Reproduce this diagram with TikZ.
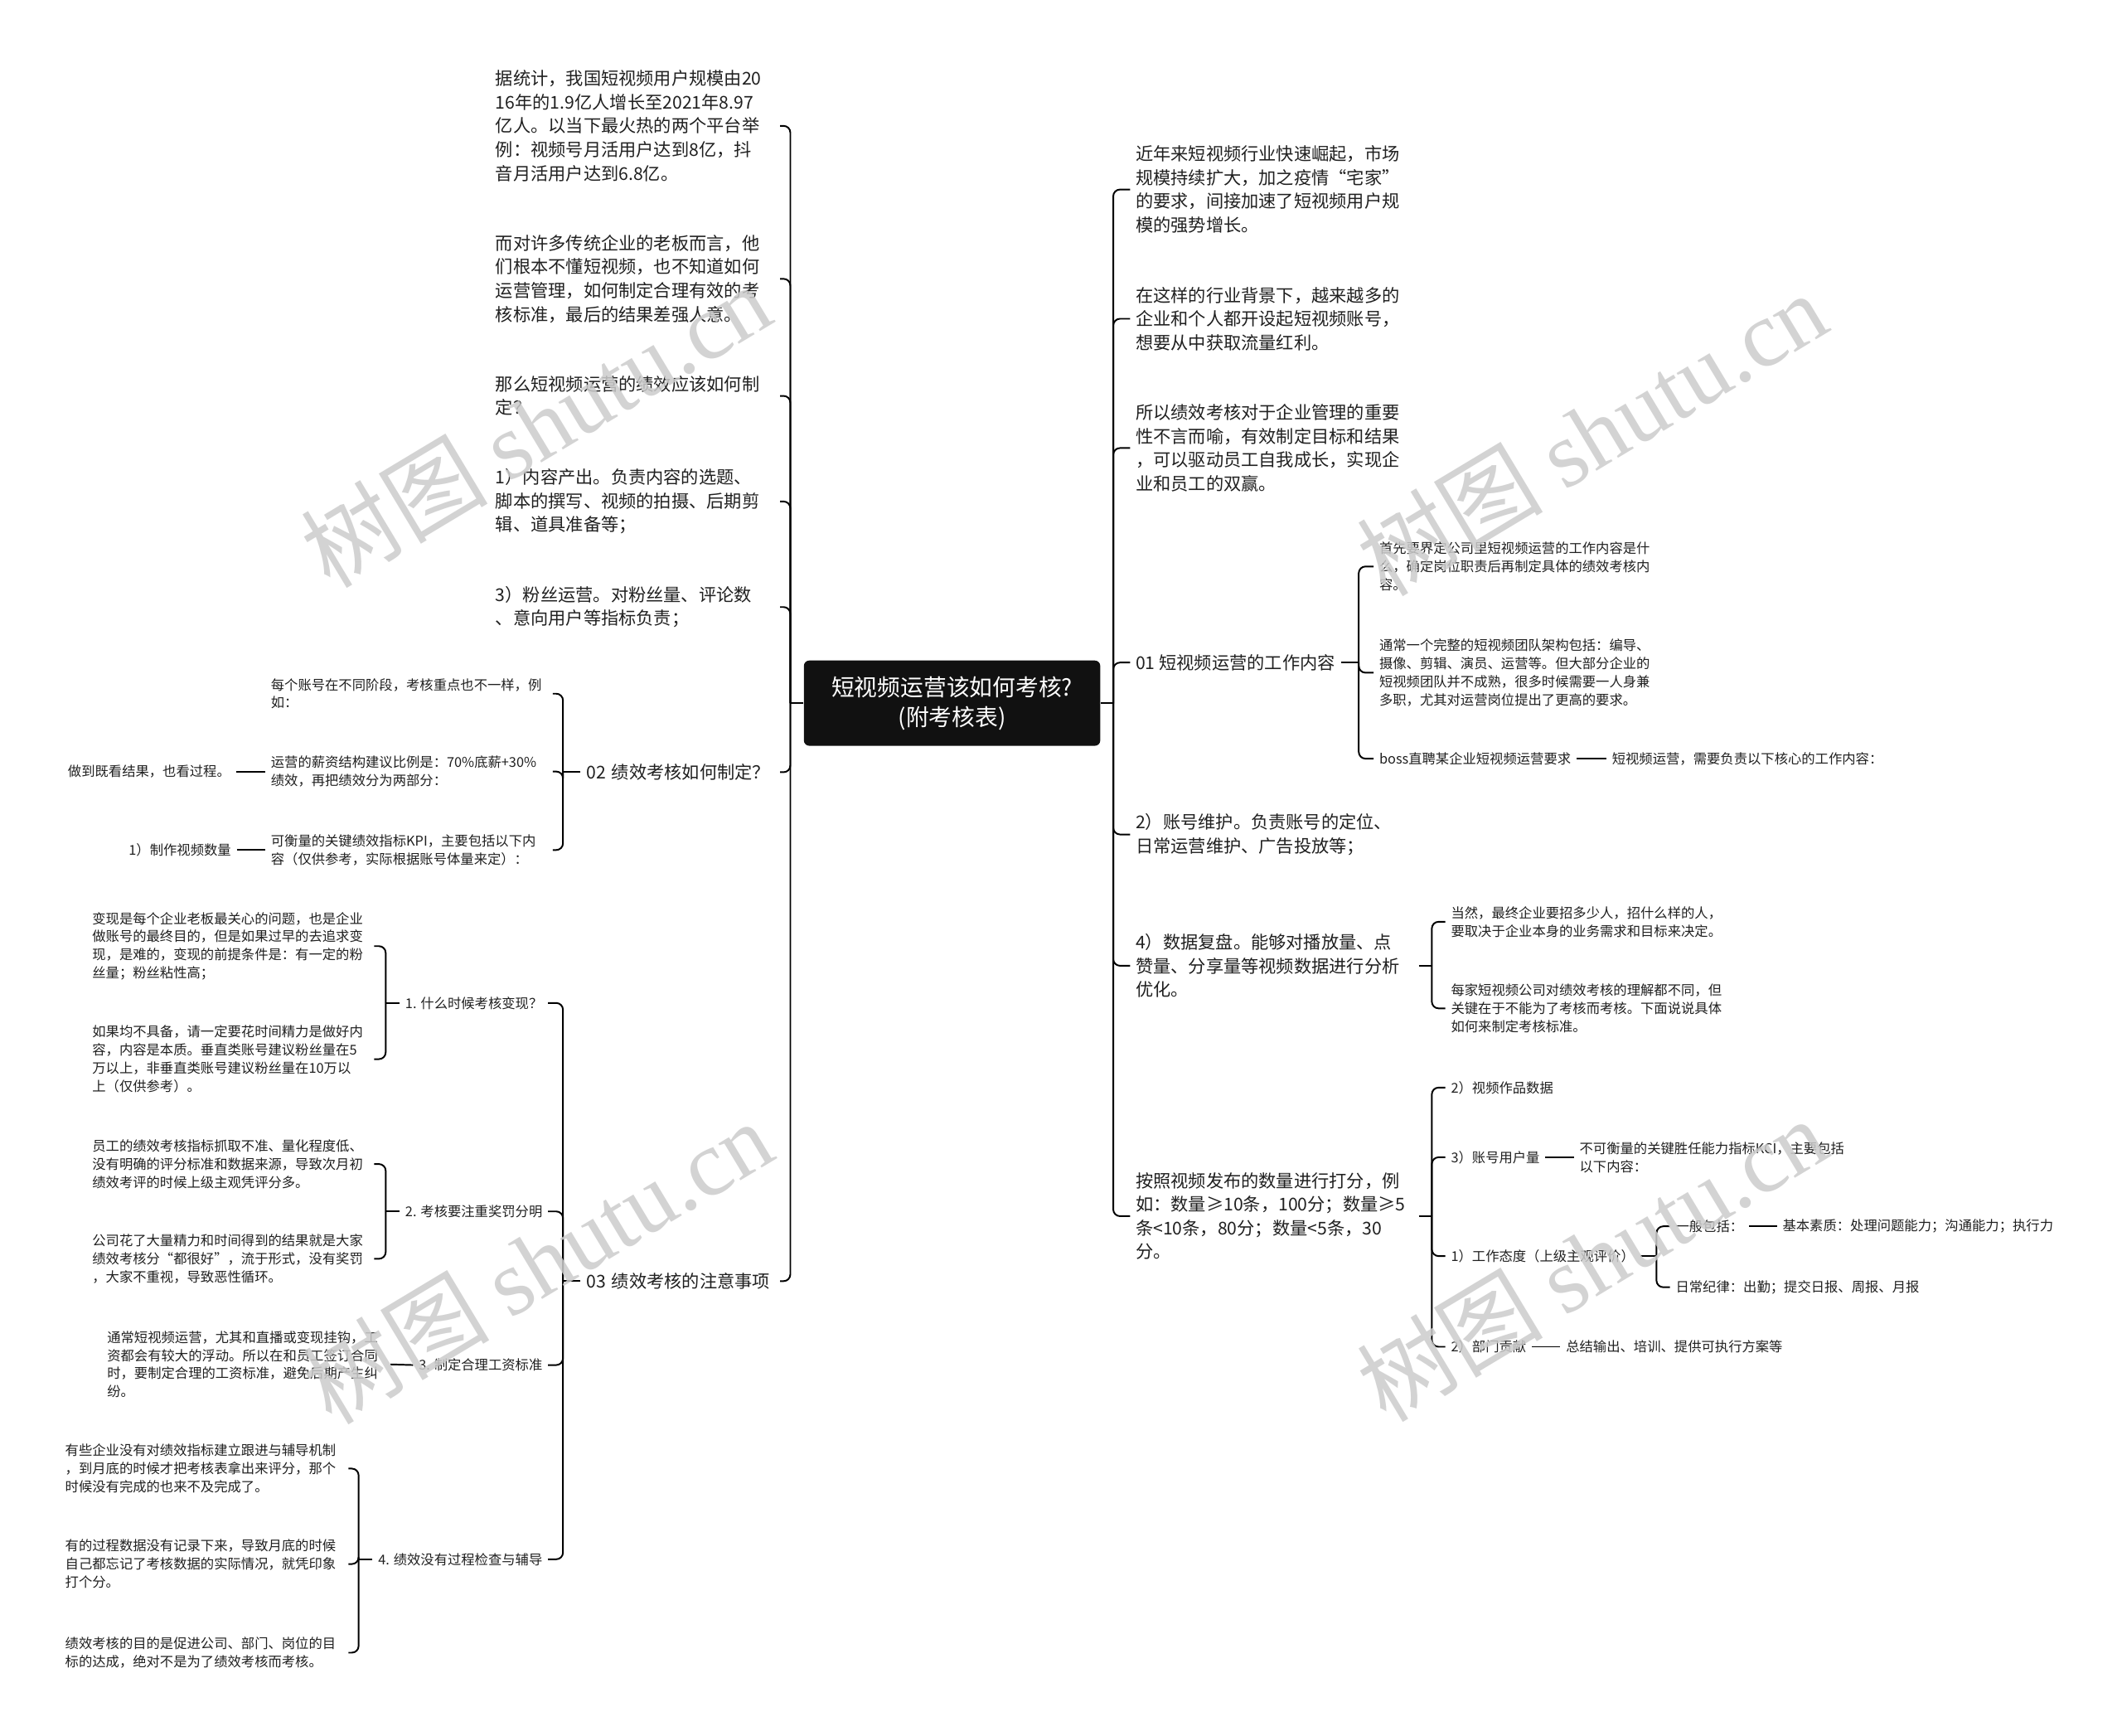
\documentclass[tikz,border=0pt]{standalone}
\usepackage{fontspec}
\setmainfont{Noto Sans CJK SC}
\newfontfamily\wmserif{Liberation Serif}
\definecolor{txt}{HTML}{202020}
\definecolor{rootfill}{HTML}{111111}
\begin{document}
\begin{tikzpicture}[x=1pt,y=-1pt,
  t1/.style={font=\fontsize{13}{17.5}\selectfont, align=left, inner xsep=4pt, inner ysep=0pt, text=txt},
  t2/.style={font=\fontsize{10}{13.4}\selectfont, align=left, inner xsep=4pt, inner ysep=0pt, text=txt},
  ltop/.style={t1, text width=206pt, anchor=west},
  rtop/.style={t1, text width=205pt, anchor=west},
  rootbox/.style={fill=rootfill, rounded corners=4pt, text=white, minimum width=219pt, minimum height=63pt, align=center, font=\fontsize{17}{22}\selectfont, inner sep=0pt},
  conn/.style={line width=1.2pt, rounded corners=5pt, draw=black},
  wm/.style={rotate=31, text=black!20, text opacity=0.85, inner sep=0pt}
]
\useasboundingbox (0,0) rectangle (1568,1282);
\fill[white] (0,0) rectangle (1568,1282);

% root
\node[rootbox] (root) at (703.5,519.5) {短视频运营该如何考核?\\(附考核表)};

% ---------------- left top level ----------------
\node[ltop] (L1) at (362,93) {据统计，我国短视频用户规模由20\\16年的1.9亿人增长至2021年8.97\\亿人。以当下最火热的两个平台举\\例：视频号月活用户达到8亿，抖\\音月活用户达到6.8亿。};
\node[ltop] (L2) at (362,206) {而对许多传统企业的老板而言，他\\们根本不懂短视频，也不知道如何\\运营管理，如何制定合理有效的考\\核标准，最后的结果差强人意。};
\node[ltop] (L3) at (362,292.5) {那么短视频运营的绩效应该如何制\\定？};
\node[ltop] (L4) at (362,370.5) {1）内容产出。负责内容的选题、\\脚本的撰写、视频的拍摄、后期剪\\辑、道具准备等；};
\node[ltop] (L5) at (362,448.5) {3）粉丝运营。对粉丝量、评论数\\、意向用户等指标负责；};
\node[t1, text width=139pt, anchor=west] (L6) at (429,570.5) {02 绩效考核如何制定？};
\node[t1, text width=139pt, anchor=west] (L7) at (429,946.5) {03 绩效考核的注意事项};

\coordinate (tL) at (584,0);
\draw[conn] (root.west) -- (root.west -| tL);
\foreach \n in {L1,L2,L3,L4,L5,L6,L7} \draw[conn] (root.west -| tL) |- (\n.east);

% ---------------- 02 branch ----------------
\node[t2, text width=204pt, anchor=west] (A1) at (196,512.5) {每个账号在不同阶段，考核重点也不一样，例\\如：};
\node[t2, text width=204pt, anchor=west] (A2) at (196,570) {运营的薪资结构建议比例是：70\%底薪+30\%\\绩效，再把绩效分为两部分：};
\node[t2, text width=204pt, anchor=west] (A3) at (196,628) {可衡量的关键绩效指标KPI，主要包括以下内\\容（仅供参考，实际根据账号体量来定）：};
\node[t2, anchor=west] (A2x) at (46,570) {做到既看结果，也看过程。};
\node[t2, anchor=west] (A3x) at (91,628) {1）制作视频数量};

\coordinate (t02) at (416,0);
\draw[conn] (L6.west) -- (L6.west -| t02);
\foreach \n in {A1,A2,A3} \draw[conn] (L6.west -| t02) |- (\n.east);
\draw[conn] (A2x.east) -- (A2.west);
\draw[conn] (A3x.east) -- (A3.west);

% ---------------- 03 branch ----------------
\node[t2, anchor=east] (D1) at (405,741) {1. 什么时候考核变现？};
\node[t2, anchor=east] (D2) at (405,895) {2. 考核要注重奖罚分明};
\node[t2, anchor=east] (D3) at (405,1008.5) {3. 制定合理工资标准};
\node[t2, anchor=east] (D4) at (405,1152) {4. 绩效没有过程检查与辅导};

\coordinate (t03) at (416,0);
\draw[conn] (L7.west) -- (L7.west -| t03);
\foreach \n in {D1,D2,D3,D4} \draw[conn] (L7.west -| t03) |- (\n.east);

\node[t2, text width=204pt, anchor=west] (E1) at (64,699) {变现是每个企业老板最关心的问题，也是企业\\做账号的最终目的，但是如果过早的去追求变\\现，是难的，变现的前提条件是：有一定的粉\\丝量；粉丝粘性高；};
\node[t2, text width=204pt, anchor=west] (E2) at (64,782.5) {如果均不具备，请一定要花时间精力是做好内\\容，内容是本质。垂直类账号建议粉丝量在5\\万以上，非垂直类账号建议粉丝量在10万以\\上（仅供参考）。};
\node[t2, text width=204pt, anchor=west] (E3) at (64,860) {员工的绩效考核指标抓取不准、量化程度低、\\没有明确的评分标准和数据来源，导致次月初\\绩效考评的时候上级主观凭评分多。};
\node[t2, text width=204pt, anchor=west] (E4) at (64,930) {公司花了大量精力和时间得到的结果就是大家\\绩效考核分“都很好”，流于形式，没有奖罚\\，大家不重视，导致恶性循环。};
\node[t2, text width=205pt, anchor=west] (E5) at (75,1008) {通常短视频运营，尤其和直播或变现挂钩，工\\资都会有较大的浮动。所以在和员工签订合同\\时，要制定合理的工资标准，避免后期产生纠\\纷。};
\node[t2, text width=205pt, anchor=west] (E6) at (44,1085) {有些企业没有对绩效指标建立跟进与辅导机制\\，到月底的时候才把考核表拿出来评分，那个\\时候没有完成的也来不及完成了。};
\node[t2, text width=205pt, anchor=west] (E7) at (44,1155.5) {有的过程数据没有记录下来，导致月底的时候\\自己都忘记了考核数据的实际情况，就凭印象\\打个分。};
\node[t2, text width=205pt, anchor=west] (E8) at (44,1221) {绩效考核的目的是促进公司、部门、岗位的目\\标的达成，绝对不是为了绩效考核而考核。};

\coordinate (tD1) at (285,0);
\draw[conn] (D1.west) -- (D1.west -| tD1);
\foreach \n in {E1,E2} \draw[conn] (D1.west -| tD1) |- (\n.east);
\draw[conn] (D2.west) -- (D2.west -| tD1);
\foreach \n in {E3,E4} \draw[conn] (D2.west -| tD1) |- (\n.east);
\draw[conn] (E5.east) -- (D3.west);
\coordinate (tD4) at (265,0);
\draw[conn] (D4.west) -- (D4.west -| tD4);
\foreach \n in {E6,E7,E8} \draw[conn] (D4.west -| tD4) |- (\n.east);

% ---------------- right top level ----------------
\node[rtop] (R1) at (835,140) {近年来短视频行业快速崛起，市场\\规模持续扩大，加之疫情“宅家”\\的要求，间接加速了短视频用户规\\模的强势增长。};
\node[rtop] (R2) at (835,235.5) {在这样的行业背景下，越来越多的\\企业和个人都开设起短视频账号，\\想要从中获取流量红利。};
\node[rtop] (R3) at (835,331) {所以绩效考核对于企业管理的重要\\性不言而喻，有效制定目标和结果\\，可以驱动员工自我成长，实现企\\业和员工的双赢。};
\node[t1, anchor=west] (R4) at (835,489.5) {01 短视频运营的工作内容};
\node[rtop] (R5) at (835,616.5) {2）账号维护。负责账号的定位、\\日常运营维护、广告投放等；};
\node[rtop] (R6) at (835,713.5) {4）数据复盘。能够对播放量、点\\赞量、分享量等视频数据进行分析\\优化。};
\node[rtop] (R7) at (835,898.5) {按照视频发布的数量进行打分，例\\如：数量≥10条，100分；数量≥5\\条<10条，80分；数量<5条，30\\分。};

\coordinate (tR) at (822.6,0);
\draw[conn] (root.east) -- (root.east -| tR);
\foreach \n in {R1,R2,R3,R4,R5,R6,R7} \draw[conn] (root.east -| tR) |- (\n.west);

% 01 branch
\node[t2, anchor=west] (F1) at (1015,418.5) {首先要界定公司里短视频运营的工作内容是什\\么，确定岗位职责后再制定具体的绩效考核内\\容。};
\node[t2, anchor=west] (F2) at (1015,497) {通常一个完整的短视频团队架构包括：编导、\\摄像、剪辑、演员、运营等。但大部分企业的\\短视频团队并不成熟，很多时候需要一人身兼\\多职，尤其对运营岗位提出了更高的要求。};
\node[t2, anchor=west] (F3) at (1015,560.5) {boss直聘某企业短视频运营要求};
\node[t2, anchor=west] (F3b) at (1187,560.5) {短视频运营，需要负责以下核心的工作内容：};
\coordinate (tR4) at (1004,0);
\draw[conn] (R4.east) -- (R4.east -| tR4);
\foreach \n in {F1,F2,F3} \draw[conn] (R4.east -| tR4) |- (\n.west);
\draw[conn] (F3.east) -- (F3b.west);

% 4) data branch
\node[t2, anchor=west] (G1) at (1068,681) {当然，最终企业要招多少人，招什么样的人，\\要取决于企业本身的业务需求和目标来决定。};
\node[t2, anchor=west] (G2) at (1068,745) {每家短视频公司对绩效考核的理解都不同，但\\关键在于不能为了考核而考核。下面说说具体\\如何来制定考核标准。};
\coordinate (tR6) at (1058,0);
\draw[conn] (R6.east) -- (R6.east -| tR6);
\foreach \n in {G1,G2} \draw[conn] (R6.east -| tR6) |- (\n.west);

% scoring branch
\node[t2, anchor=west] (H1) at (1068,803.5) {2）视频作品数据};
\node[t2, anchor=west] (H2) at (1068,855) {3）账号用户量};
\node[t2, anchor=west] (H2b) at (1163,855) {不可衡量的关键胜任能力指标KCI，主要包括\\以下内容：};
\node[t2, anchor=west] (H3) at (1068,928) {1）工作态度（上级主观评价）};
\node[t2, anchor=west] (H4) at (1068,995) {2）部门贡献};
\node[t2, anchor=west] (H4b) at (1153,995) {总结输出、培训、提供可执行方案等};
\coordinate (tR7) at (1058,0);
\draw[conn] (R7.east) -- (R7.east -| tR7);
\foreach \n in {H1,H2,H3,H4} \draw[conn] (R7.east -| tR7) |- (\n.west);
\draw[conn] (H2.east) -- (H2b.west);
\draw[conn] (H4.east) -- (H4b.west);

\node[t2, anchor=west] (I1) at (1234,906) {一般包括：};
\node[t2, anchor=west] (I1b) at (1313,906) {基本素质：处理问题能力；沟通能力；执行力};
\node[t2, anchor=west] (I2) at (1234,951) {日常纪律：出勤；提交日报、周报、月报};
\coordinate (tH3) at (1224,0);
\draw[conn] (H3.east) -- (H3.east -| tH3);
\foreach \n in {I1,I2} \draw[conn] (H3.east -| tH3) |- (\n.west);
\draw[conn] (I1.east) -- (I1b.west);

% ---------------- watermarks ----------------
\node[wm] (W1) at (396,314) {\fontsize{69}{69}\selectfont 树图 {\wmserif shutu.cn}};
\node[wm] (W2) at (397,932) {\fontsize{69}{69}\selectfont 树图 {\wmserif shutu.cn}};
\node[wm] (W3) at (1176,320) {\fontsize{69}{69}\selectfont 树图 {\wmserif shutu.cn}};
\node[wm] (W4) at (1176,930) {\fontsize{69}{69}\selectfont 树图 {\wmserif shutu.cn}};
\end{tikzpicture}
\end{document}
